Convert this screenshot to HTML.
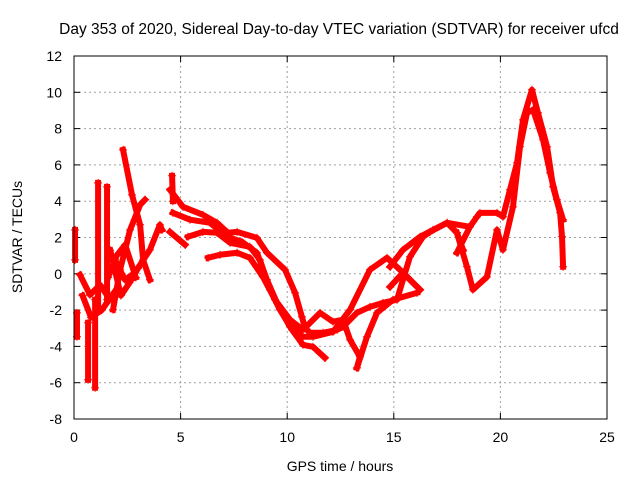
<!DOCTYPE html>
<html><head><meta charset="utf-8"><style>
body{margin:0;background:#fff}
svg{display:block;font-family:"Liberation Sans",sans-serif}
</style></head><body>
<svg id="chart" width="640" height="480">
<rect width="640" height="480" fill="#fff"/>
<text x="339" y="34" font-size="15.5" text-anchor="middle">Day 353 of 2020, Sidereal Day-to-day VTEC variation (SDTVAR) for receiver ufcd</text>
<text x="340" y="471" font-size="14" text-anchor="middle">GPS time / hours</text>
<text x="22" y="237" font-size="14" text-anchor="middle" transform="rotate(-90 22 237)">SDTVAR / TECUs</text>
<g id="grid"></g><g id="ticks"></g><g id="series"></g>
<rect x="74" y="56" width="533" height="363" fill="none" stroke="#000" stroke-width="1"/>
</svg>
<script>
const xTicks=[0,5,10,15,20,25];
const yTicks=[-8,-6,-4,-2,0,2,4,6,8,10,12];
const t1=[[4.50,4.63],[5.11,3.69],[6.05,3.25],[6.71,2.81],[7.22,2.26],[7.65,2.31],[8.58,1.98],[9.05,1.16],[9.90,0.22],[10.37,-1.05],[10.69,-2.37],[10.83,-2.98],[11.07,-3.25],[11.68,-3.25],[12.34,-3.09],[12.62,-2.92],[13.27,-2.15],[13.88,-1.82],[14.49,-1.60],[15.15,-1.43],[15.43,-0.33],[15.76,0.94],[16.37,2.04],[16.70,2.31],[17.50,2.81],[17.96,2.26],[18.25,1.32]];
const t2=[[4.64,3.36],[5.44,2.98],[6.38,2.81],[7.18,2.04],[7.88,1.76],[8.58,1.16],[9.05,-0.33],[9.52,-1.60],[10.13,-2.92],[10.74,-3.47],[11.21,-3.47],[12.15,-3.20],[12.95,-1.98],[13.88,0.22],[14.68,0.88],[15.29,0.22],[16.23,-0.88]];
const t3=[[5.35,2.04],[6.05,2.31],[6.71,2.26],[7.32,1.71],[8.25,1.49],[8.72,0.77],[9.19,-0.88],[9.66,-1.98],[10.23,-3.09],[10.74,-3.91],[11.21,-4.02],[11.77,-4.63]];
const t4=[[6.29,0.88],[6.85,1.05],[7.65,1.16],[8.25,0.88],[8.86,-0.17],[9.43,-1.43],[10.13,-2.53],[10.74,-3.09],[11.54,-2.15],[12.15,-2.64],[12.62,-2.53],[12.95,-3.64],[13.41,-4.57],[13.27,-5.18]];
const t5=[[13.27,-5.18],[13.74,-3.47],[14.21,-2.15],[14.96,-1.43],[16.09,-1.05]];
const t6=[[14.82,0.39],[15.43,1.32],[16.23,2.04],[16.84,2.42],[17.50,2.81],[18.57,2.59],[18.90,3.14],[19.04,3.36],[19.84,3.36],[20.12,3.14],[20.45,4.63],[20.78,6.12],[21.06,8.48],[21.48,10.14],[21.76,8.87],[22.19,7.00],[22.47,4.79],[22.80,3.36],[22.89,2.04],[22.94,0.39]];
const t7=[[14.82,-0.72],[15.43,0.06],[16.23,-0.88]];
const t8=[[17.96,2.26],[18.43,0.39],[18.71,-0.88],[19.37,-0.17],[19.84,2.42],[20.12,1.32],[20.59,3.69],[20.92,7.00],[21.25,8.87],[21.53,9.04],[22.00,7.38],[22.33,5.56],[22.65,4.08],[22.94,2.98]];
const t9=[[17.96,1.16],[18.57,2.59]];
const e1=[[0.05,2.42],[0.05,0.77]];
const e1b=[[0.14,-2.15],[0.14,-3.47]];
const e2=[[0.66,-2.70],[0.66,-5.84]];
const e3=[[0.99,-1.43],[0.99,-6.28]];
const e4=[[1.13,5.01],[1.13,-1.82]];
const e5=[[1.55,4.79],[1.55,-1.43]];
const e6=[[2.30,6.83],[2.72,4.35],[3.10,2.70],[3.24,0.77],[3.56,-0.33]];
const e7=[[1.83,-1.98],[2.16,0.22],[2.63,2.42],[3.10,3.80],[3.33,4.08]];
const e8=[[1.92,0.77],[2.39,-0.33],[2.86,0.06],[3.56,1.32],[4.03,2.70],[4.13,2.42]];
const e9=[[0.28,-0.06],[0.75,-1.16],[1.22,-0.61],[1.69,-1.43],[2.16,-0.88]];
const e10=[[4.60,5.40],[4.64,4.00]];
const e11=[[4.50,2.31],[5.21,1.60]];
const e12=[[1.70,1.30],[2.20,-1.20],[2.60,-0.50],[3.00,0.30]];
const e13=[[1.60,-0.20],[2.00,1.00],[2.40,1.60],[2.90,-0.20]];
const e14=[[0.40,-1.20],[0.80,-2.40],[1.30,-2.00],[1.90,-1.00]];
const tracks=[t1,t2,t3,t4,t5,t6,t7,t8,t9,e1,e1b,e2,e3,e4,e5,e6,e7,e8,e9,e10,e11,e12,e13,e14];
const X0=74,X1=607,Y0=419,Y1=56,xmin=0,xmax=25,ymin=-8,ymax=12;
const sx=v=>X0+(v-xmin)/(xmax-xmin)*(X1-X0);
const sy=v=>Y0-(v-ymin)/(ymax-ymin)*(Y0-Y1);
const NS="http://www.w3.org/2000/svg";
const grid=document.getElementById('grid'),ticks=document.getElementById('ticks'),ser=document.getElementById('series');
function mk(tag,attrs,parent){const e=document.createElementNS(NS,tag);for(const k in attrs)e.setAttribute(k,attrs[k]);parent.appendChild(e);return e;}
xTicks.forEach(t=>{const x=sx(t);
 if(t>xmin&&t<xmax){const g=mk('line',{x1:x,x2:x,y1:Y1,y2:Y0,stroke:'#a0a0a0','stroke-dasharray':'2,3'},grid);
 
 }
 mk('line',{x1:x,x2:x,y1:Y0,y2:Y0-6,stroke:'#000'},ticks);mk('line',{x1:x,x2:x,y1:Y1,y2:Y1+6,stroke:'#000'},ticks);
 const l=mk('text',{x:x,y:442,'font-size':14,'text-anchor':'middle'},ticks);l.textContent=t;
 
 });
yTicks.forEach(t=>{const y=sy(t);
 if(t>ymin&&t<ymax){const g=mk('line',{x1:X0,x2:X1,y1:y,y2:y,stroke:'#a0a0a0','stroke-dasharray':'2,3'},grid);
 
 }
 mk('line',{x1:X0,x2:X0+6,y1:y,y2:y,stroke:'#000'},ticks);mk('line',{x1:X1,x2:X1-6,y1:y,y2:y,stroke:'#000'},ticks);
 const l=mk('text',{x:62,y:y+5,'font-size':14,'text-anchor':'end'},ticks);l.textContent=t;
 
 });
tracks.forEach((tr,i)=>{
 const p=mk('polyline',{points:tr.map(d=>sx(d[0])+','+sy(d[1])).join(' '),fill:'none',stroke:'#ff0000','stroke-width':6,'stroke-linejoin':'round','stroke-linecap':'square'},ser);
 
 
 tr.forEach(d=>{const x=sx(d[0]),y=sy(d[1]);
  const m=mk('path',{d:`M${x-4},${y}h8M${x},${y-4}v8`,stroke:'#ff0000','stroke-width':1},ser);
  
  });
});
</script>
</body></html>
